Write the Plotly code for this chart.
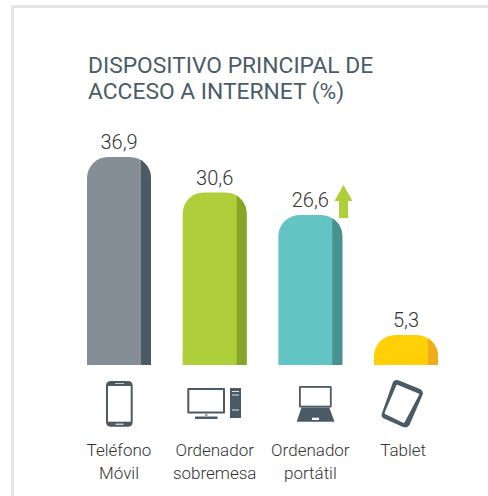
import re
import plotly.graph_objects as go

W, H = 488, 496

categories = ["Teléfono<br>Móvil", "Ordenador<br>sobremesa", "Ordenador<br>portátil", "Tablet"]
values = [36.9, 30.6, 26.6, 5.3]
value_labels = ["36,9", "30,6", "26,6", "5,3"]
front_colors = ["#858e97", "#aecf3a", "#62c5c4", "#ffd005"]
side_colors = ["#4a5b66", "#88a52a", "#47918f", "#f0ac1e"]
title_lines = ["DISPOSITIVO PRINCIPAL DE", "ACCESO A INTERNET (%)"]

ICON = "#4a5b66"
UNIT_X = 95.67      # px per category
CENTER0 = 119.0     # px of first category centre
BASE_Y = 365.0      # px of value 0
UNIT_Y = 5.637      # px per value unit
BAR_W = 64.0 / UNIT_X
SIDE_W = 10.0 / UNIT_X
RADIUS = 21


def P(path):
    """pixel-space path -> paper-space path"""
    out, i = [], 0
    for tok in re.findall(r"[MLQCZ]|-?[\d.]+", path):
        if tok.isalpha():
            out.append(tok)
        else:
            v = float(tok)
            out.append(f"{v / W:.5f}" if i % 2 == 0 else f"{1 - v / H:.5f}")
            i += 1
    return " ".join(out)


def rrect(x0, y0, x1, y1, r):
    return (f"M {x0+r} {y0} L {x1-r} {y0} Q {x1} {y0} {x1} {y0+r} L {x1} {y1-r} Q {x1} {y1} {x1-r} {y1} "
            f"L {x0+r} {y1} Q {x0} {y1} {x0} {y1-r} L {x0} {y0+r} Q {x0} {y0} {x0+r} {y0} Z")


def shape(path, color):
    return dict(type="path", xref="paper", yref="paper", path=P(path),
                fillcolor=color, line=dict(width=0), layer="above")


def rect(x0, y0, x1, y1, color):
    return shape(f"M {x0} {y0} L {x1} {y0} L {x1} {y1} L {x0} {y1} Z", color)


fig = go.Figure()
xs = list(range(len(values)))
fig.add_bar(x=xs, y=values, width=BAR_W, marker=dict(color=front_colors, line=dict(width=0), cornerradius=RADIUS),
            text=value_labels, textposition="outside", cliponaxis=False,
            textfont=dict(family="Roboto", size=20, color="#333333", weight=300), hoverinfo="skip")

# dark side strip of each bar, following the rounded corner
for i, v in enumerate(values):
    right = i + BAR_W / 2
    left = right - SIDE_W
    ry = RADIUS / UNIT_Y
    rx = RADIUS / UNIT_X
    px, py = [left], [0]
    n = 14
    d0 = rx - SIDE_W  # offset of the strip's left edge from the corner circle centre
    for k in range(n + 1):
        d = d0 + (rx - d0) * k / n
        u = max(0.0, 1 - (d / rx) ** 2) ** 0.5
        px.append(right - rx + d)
        py.append(v - ry + ry * u)
    px.append(right)
    py.append(0)
    fig.add_scatter(x=px, y=py, mode="lines", fill="toself", fillcolor=side_colors[i],
                    line=dict(width=0), hoverinfo="skip", showlegend=False)

shapes = [
    # frame
    dict(type="rect", xref="paper", yref="paper", x0=11 / W, x1=14 / W, y0=0, y1=1 - 5 / H,
         fillcolor="#e4e4e4", line=dict(width=0), layer="below"),
    dict(type="rect", xref="paper", yref="paper", x0=11 / W, x1=1, y0=1 - 8 / H, y1=1 - 5 / H,
         fillcolor="#e4e4e4", line=dict(width=0), layer="below"),
    # arrow
    shape("M 343.5 185 L 352.5 201 L 348 201 L 348 218 L 339 218 L 339 201 L 334.5 201 Z", "#aecf3a"),
    # phone
    shape(rrect(106, 381, 132.7, 426.7, 5), ICON),
    rect(108, 386, 130.7, 421.7, "#ffffff"),
    rect(115, 383, 124, 384, "#c4ccd1"),
    rect(115.5, 423.5, 123.5, 425, "#c4ccd1"),
    # desktop
    shape(rrect(187.3, 388, 225, 413.5, 1), ICON),
    rect(189.3, 390, 223, 411.5, "#ffffff"),
    rect(195, 416.5, 217.5, 419, ICON),
    rect(205, 413, 207.5, 417, "#9aa5ac"),
    rect(230, 388, 241, 418, ICON),
    rect(232, 391, 239, 392, "#dfe3e6"),
    rect(232, 394.5, 239, 395.5, "#dfe3e6"),
    rect(232, 409.5, 239, 410.5, "#dfe3e6"),
    # laptop
    shape(rrect(299, 386, 331.7, 407.5, 1), ICON),
    rect(300.8, 387.8, 329.9, 405.7, "#ffffff"),
    shape("M 301.5 407.5 L 329.3 407.5 L 334.5 421.7 L 296.7 421.7 Z", ICON),
    rect(312, 417.7, 319, 420, "#ffffff"),
    # tablet
    shape("M 393 382 Q 395 379 399 380.5 L 420 389 Q 424 391 422.5 395 L 409.5 425 Q 407.5 428.5 403 427 "
          "L 384 418.5 Q 380.5 416.5 382 413 Z", ICON),
    shape("M 396.5 385 Q 397 384.5 398 385 L 418.5 393.5 Q 419.5 394 419 395 L 404.5 422.5 Q 404 423 403 422.8 "
          "L 385 414 Q 384.2 413.5 384.7 412.5 Z", "#ffffff"),
]

annotations = [
    dict(text=line, xref="paper", yref="paper", x=86 / W, y=1 - yc / H, xanchor="left", yanchor="middle",
         showarrow=False, font=dict(family="Roboto", size=22.8, color="#4a5c67"))
    for line, yc in zip(title_lines, [65.2, 91.9])
]

fig.update_layout(
    width=W, height=H, margin=dict(l=0, r=0, t=0, b=0), showlegend=False,
    paper_bgcolor="#ffffff", plot_bgcolor="rgba(0,0,0,0)", shapes=shapes, annotations=annotations,
    xaxis=dict(range=[-CENTER0 / UNIT_X, (W - CENTER0) / UNIT_X], domain=[0, 1], showgrid=False, zeroline=False,
               showline=False, tickmode="array", tickvals=[0, 1, 2, 2.97], ticktext=categories,
               ticks="outside", ticklen=70, tickcolor="rgba(0,0,0,0)",
               tickfont=dict(family="Roboto", size=17, color="#333333", weight=300)),
    yaxis=dict(range=[0, BASE_Y / UNIT_Y], domain=[1 - BASE_Y / H, 1], visible=False),
)

fig.write_html("out.html", config={"displayModeBar": False},
               post_script="document.body.style.margin='0';document.body.style.overflow='hidden';")
